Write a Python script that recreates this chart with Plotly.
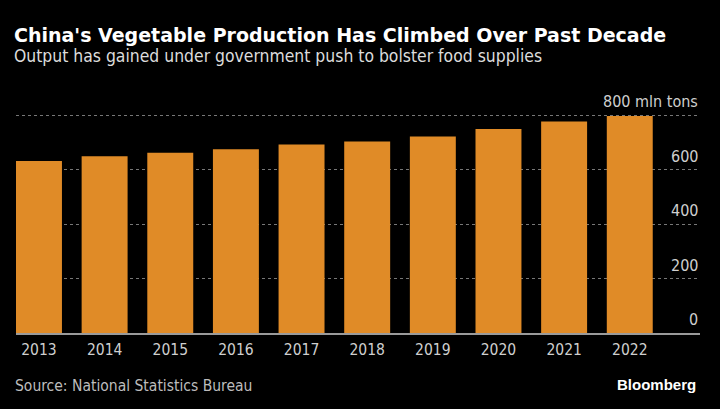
import plotly.graph_objects as go

years = ["2013", "2014", "2015", "2016", "2017", "2018", "2019", "2020", "2021", "2022"]
output_mln_tons = [632.0, 650.0, 663.0, 675.0, 693.0, 704.0, 722.0, 750.0, 777.0, 798.0]
y_tick_vals = [0, 200, 400, 600, 800]
y_tick_text = ["0", "200", "400", "600", "800 mln tons"]

title = "China's Vegetable Production Has Climbed Over Past Decade"
subtitle = "Output has gained under government push to bolster food supplies"
source = "Source: National Statistics Bureau"

FONT = "DejaVu Sans Condensed, DejaVu Sans, sans-serif"

fig = go.Figure(
    go.Bar(
        x=years,
        y=output_mln_tons,
        marker=dict(color="#E08B27", line=dict(width=0)),
        hoverinfo="x+y",
    )
)

annotations = [
    dict(text=t, xref="paper", yref="y", x=1.0, y=v, xanchor="right", yanchor="bottom",
         yshift=2, showarrow=False, font=dict(family=FONT, size=16, color="#cfcfcf"))
    for v, t in zip(y_tick_vals, y_tick_text)
]

annotations += [
    dict(text="<b>" + title + "</b>", xref="paper", yref="paper", x=-0.006, y=1.363,
         xanchor="left", yanchor="middle", showarrow=False,
         font=dict(family="DejaVu Sans, sans-serif", size=19, color="#ffffff")),
    dict(text=subtitle, xref="paper", yref="paper", x=-0.006, y=1.265,
         xanchor="left", yanchor="middle", showarrow=False,
         font=dict(family=FONT, size=17.4, color="#dcdcdc")),
    dict(text=source, xref="paper", yref="paper", x=-0.004, y=-0.242,
         xanchor="left", yanchor="middle", showarrow=False,
         font=dict(family=FONT, size=15.5, color="#bdbdbd")),
    dict(text="<b>Bloomberg</b>", xref="paper", yref="paper", x=0.997, y=-0.233,
         xanchor="right", yanchor="middle", showarrow=False,
         font=dict(family="Liberation Sans, Arial, sans-serif", size=15, color="#ffffff")),
]

fig.update_layout(
    width=720,
    height=409,
    margin=dict(l=16, r=20, t=114, b=76, autoexpand=False),
    paper_bgcolor="#000000",
    plot_bgcolor="#000000",
    bargap=0.3,
    showlegend=False,
    font=dict(family=FONT, color="#cfcfcf", size=15),
    xaxis=dict(
        type="category",
        range=[-0.35, 10.07],
        automargin=False,
        showgrid=False,
        showline=True,
        linecolor="#9a9a9a",
        linewidth=1.5,
        ticks="outside",
        ticklen=2,
        tickcolor="rgba(0,0,0,0)",
        tickfont=dict(family=FONT, size=15.5, color="#cfcfcf"),
        fixedrange=True,
    ),
    yaxis=dict(
        range=[0, 805],
        automargin=False,
        side="right",
        tickvals=y_tick_vals,
        showticklabels=False,
        ticks="",
        showgrid=True,
        gridcolor="#777777",
        griddash="dot",
        gridwidth=1,
        zeroline=False,
        showline=False,
        fixedrange=True,
    ),
    annotations=annotations,
)

fig.write_html(
    "out.html",
    config={"displayModeBar": False},
    post_script="document.body.style.margin='0';document.body.style.background='#000';",
)
